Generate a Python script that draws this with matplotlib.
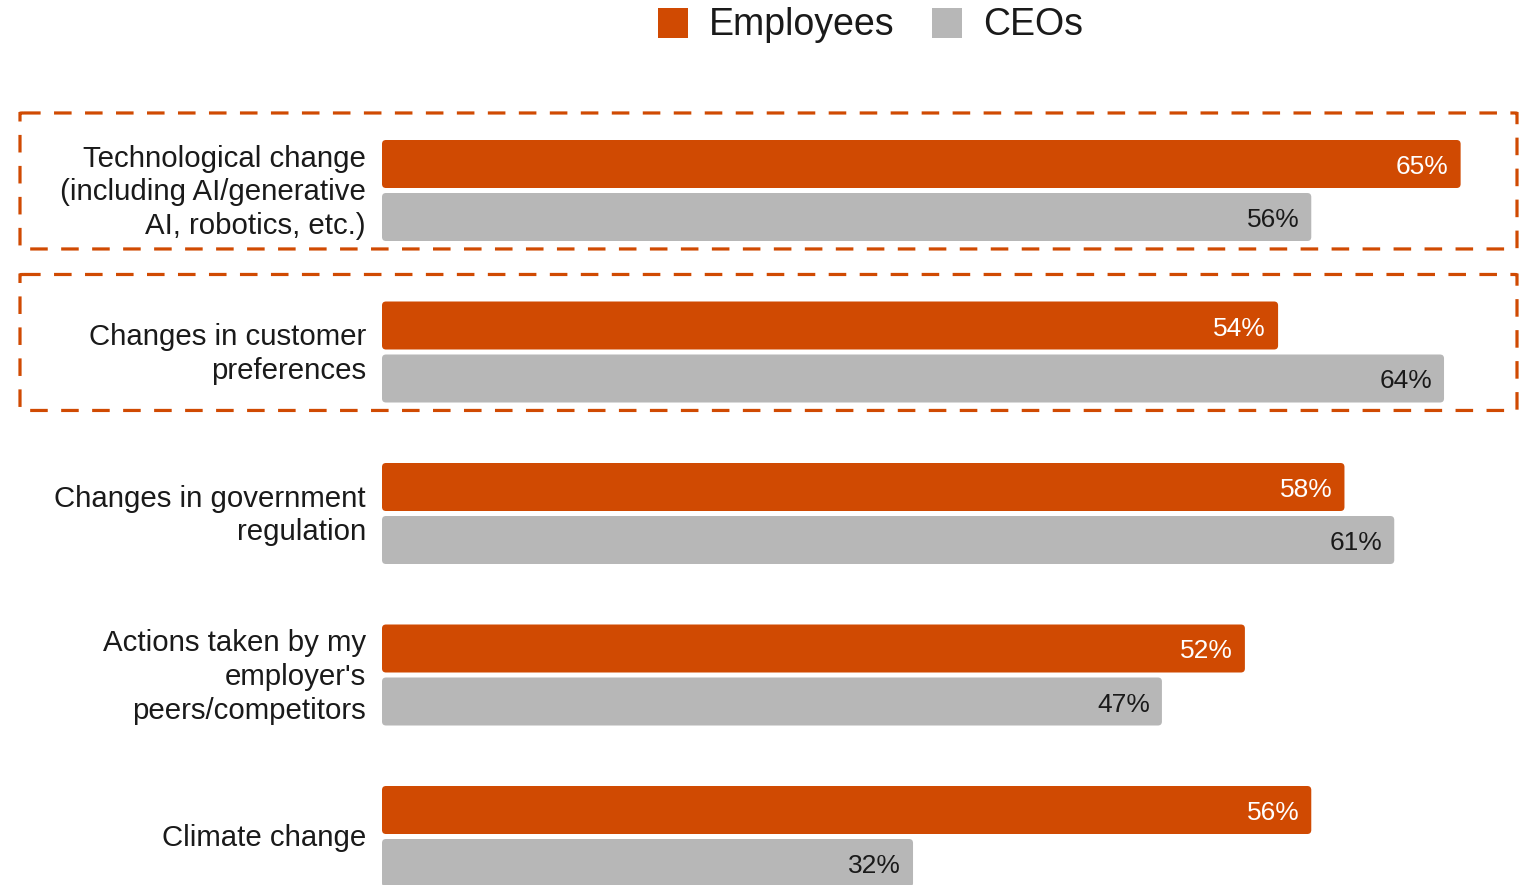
import matplotlib
matplotlib.use("Agg")
import matplotlib.pyplot as plt
import matplotlib.transforms as mtransforms
from matplotlib.patches import Rectangle, FancyBboxPatch
import numpy as np

categories = [
    "Technological change\n(including AI/generative\nAI, robotics, etc.)",
    "Changes in customer\npreferences",
    "Changes in government\nregulation",
    "Actions taken by my\nemployer's\npeers/competitors",
    "Climate change",
]
employees = [65, 54, 58, 52, 56]
ceos = [56, 64, 61, 47, 32]
series_names = ["Employees", "CEOs"]
highlighted = [0, 1]

ORANGE = "#D04A02"
GREY = "#B7B7B7"
TEXT = "#1a1a1a"
FONT = "Liberation Sans"

W, H = 1527, 885
fig = plt.figure(figsize=(W / 100, H / 100), dpi=100)
ax = fig.add_axes([382 / W, 0, 1 - 382 / W, 1])

y = np.arange(len(categories))
bar_h = 48 / 161.5
offset = 26.5 / 161.5

XMAX = 69
ax.set_xlim(0, XMAX)
ax.set_ylim((885 - 190.5) / 161.5, -190.5 / 161.5)
ax.axis("off")

bars_e = ax.barh(y - offset, employees, height=bar_h, color=ORANGE, edgecolor="none")
bars_c = ax.barh(y + offset, ceos, height=bar_h, color=GREY, edgecolor="none")

# swap the plain rectangles for slightly rounded ones
px_x = XMAX / (W - 382)          # data units per pixel, x
px_y = 1 / 161.5                 # data units per pixel, y
for container in (bars_e, bars_c):
    for b in container:
        x0, y0 = b.get_x(), b.get_y()
        w, h = b.get_width(), b.get_height()
        fb = FancyBboxPatch((x0, y0), w, h,
                            boxstyle=f"round,pad=0,rounding_size={4 * px_x}",
                            mutation_aspect=px_y / px_x,
                            facecolor=b.get_facecolor(), edgecolor="none")
        b.set_visible(False)
        ax.add_patch(fb)

pad = 12 * px_x
dy = 3 * px_y
for i in range(len(categories)):
    ax.text(employees[i] - pad, y[i] - offset + dy, f"{employees[i]}%", ha="right",
            va="center", color="white", fontsize=19, family=FONT)
    ax.text(ceos[i] - pad, y[i] + offset + dy, f"{ceos[i]}%", ha="right",
            va="center", color=TEXT, fontsize=19, family=FONT)

# category labels to the left of the bars
lab_trans = mtransforms.blended_transform_factory(fig.transFigure, ax.transData)
for i, c in enumerate(categories):
    fig.text(366 / W, y[i] + 2 * px_y, c, ha="right", va="center", fontsize=21.2,
             family=FONT, color=TEXT, linespacing=1.26,
             transform=lab_trans)

# dashed frames around the highlighted rows
for i in highlighted:
    top = y[i] - 0.48
    bot = y[i] + 0.362
    r = FancyBboxPatch((20 / W, top), (1517 - 20) / W, bot - top,
                       boxstyle="round,pad=0,rounding_size=0.002",
                       transform=lab_trans, fill=False, edgecolor=ORANGE,
                       linewidth=2.3, linestyle=(0, (5.5, 4.2)), clip_on=False)
    fig.add_artist(r)

# legend
sq = 30
for name, color, x0 in [(series_names[0], ORANGE, 658), (series_names[1], GREY, 932)]:
    fig.add_artist(Rectangle((x0 / W, 1 - 38 / H), sq / W, sq / H,
                             transform=fig.transFigure, facecolor=color,
                             edgecolor="none"))
    fig.text((x0 + 51) / W, 1 - 25 / H, name, ha="left", va="center",
             fontsize=27, family=FONT, color=TEXT)

fig.savefig("out.png", dpi=100)
